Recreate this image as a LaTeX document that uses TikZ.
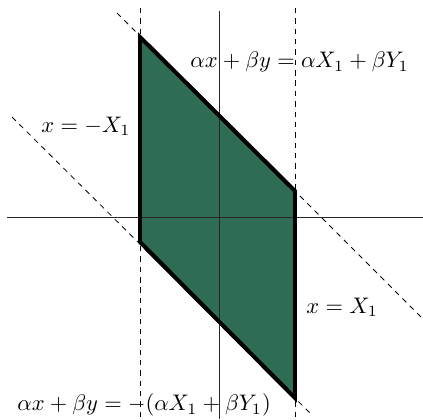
\documentclass[tikz,border=0pt]{standalone}
\usepackage{amsmath}
\definecolor{regiongreen}{RGB}{46,108,84}
\begin{document}
\begin{tikzpicture}[x=0.4444pt,y=-0.4444pt,
  axis/.style={line width=0.35pt,black!85},
  guide/.style={line width=0.35pt,black,dash pattern=on 2.4pt off 2.2pt},
  region/.style={fill=regiongreen,draw=black,line width=1.7pt,line join=miter},
  lab/.style={inner sep=0pt,font=\normalsize}]
\useasboundingbox (0,0) rectangle (423,419);
% corners
\coordinate (TL) at (140,37);
\coordinate (TR) at (295,191);
\coordinate (BR) at (295,398);
\coordinate (BL) at (140,242);
% guide line ends
\coordinate (u1) at (117,13);
\coordinate (u2) at (423,319);
\coordinate (l1) at (12,117);
\coordinate (l2) at (313,416);
\coordinate (vl1) at (140,8);
\coordinate (vl2) at (140,419);
\coordinate (vr1) at (295,8);
\coordinate (vr2) at (295,419);
\coordinate (ax1) at (7,217);
\coordinate (ax2) at (423,217);
\coordinate (ay1) at (219,11);
\coordinate (ay2) at (219,419);
% region
\filldraw[region] (TL) -- (TR) -- (BR) -- (BL) -- cycle;
% axes
\draw[axis] (ax1) -- (ax2);
\draw[axis] (ay1) -- (ay2);
% guides
\draw[guide] (u1) -- (u2);
\draw[guide] (l1) -- (l2);
\draw[guide] (vl1) -- (vl2);
\draw[guide] (vr1) -- (vr2);
% redraw outline on top
\draw[region,fill=none] (TL) -- (TR) -- (BR) -- (BL) -- cycle;
% labels
\node[lab,anchor=west] (top) at (190,62) {$\alpha x+\beta y=\alpha X_1+\beta Y_1$};
\node[lab,anchor=west] (left) at (41,126) {$x=-X_1$};
\node[lab,anchor=west] (right) at (306,307) {$x=X_1$};
\node[lab,anchor=west] (bot) at (17,405) {$\alpha x+\beta y=-(\alpha X_1+\beta Y_1)$};
\end{tikzpicture}
\end{document}
